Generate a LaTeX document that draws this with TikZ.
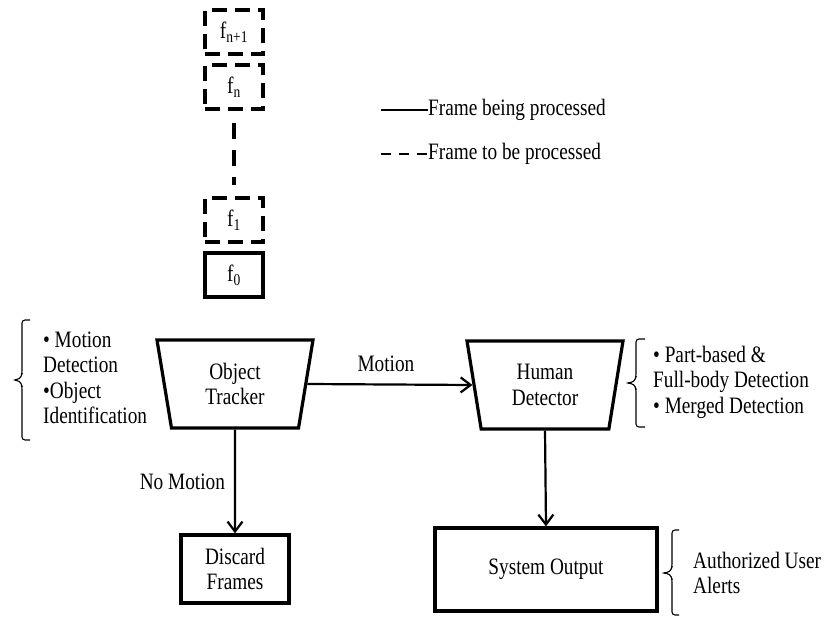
\documentclass[tikz,border=0pt]{standalone}
\usepackage{fontspec}
\setmainfont{Liberation Serif}[FakeStretch=0.82]
\usetikzlibrary{shapes.geometric,arrows.meta}

\tikzset{
  framebox/.style={draw, line width=3.3pt, minimum width=58pt, minimum height=44pt, inner sep=0pt},
  framedashed/.style={framebox, dash pattern=on 15pt off 8pt},
  unit/.style={draw, line width=3.2pt, trapezium, shape border rotate=180,
    trapezium left angle=71, trapezium right angle=71, trapezium stretches body,
    minimum width=156pt, minimum height=88pt, align=center, inner sep=0pt},
  outbox/.style={draw, line width=3.2pt, align=center, inner sep=0pt},
  flow/.style={line width=2.2pt, -{Straight Barb[length=10pt,width=15pt,line width=2.2pt]}},
  bracket/.style={line width=1.1pt, rounded corners=3pt},
  note/.style={anchor=west, align=left, inner sep=0pt},
  legline/.style={line width=2.5pt}
}

\begin{document}
\begin{tikzpicture}[x=1pt, y=-1pt, font=\fontsize{23.5}{25.5}\selectfont]
\useasboundingbox (0,0) rectangle (827,617);

% frame queue
\node[framedashed] (fn1) at (234,32) {f\textsubscript{n+1}};
\node[framedashed] (fn)  at (234,87) {f\textsubscript{n}};
\node[framedashed] (f1)  at (234,220) {f\textsubscript{1}};
\node[framebox]    (f0)  at (234,275) {f\textsubscript{0}};
\draw[line width=3.2pt, dash pattern=on 16pt off 11pt, shorten <=12pt, shorten >=11pt] (fn.south) -- (f1.north);

% legend
\coordinate (solidstart) at (381,110);
\node[note] (solidtext) at (428,110) {Frame being processed};
\draw[legline] (solidstart) -- (solidtext.west);
\coordinate (dashstart) at (381,154);
\node[note] (dashtext) at (428,154) {Frame to be processed};
\draw[legline, dash pattern=on 10pt off 8pt] (dashstart) -- (dashtext.west);

% processing units
\node[unit] (ot) at (235,384) {Object\\Tracker};
\node[unit] (hd) at (545,385) {Human\\Detector};
\node[outbox, minimum width=108pt, minimum height=68pt] (discard) at (235,569) {Discard\\Frames};
\node[outbox, minimum width=222pt, minimum height=83pt] (out) at (546,569.5) {System Output};

% connectors
\draw[flow] (ot.east) -- node[above=8pt, xshift=-4pt] {Motion} (hd.west);
\draw[flow] (ot.south) -- node[pos=0.5, anchor=east, inner sep=0pt, xshift=-9pt] {No Motion} (discard.north);
\draw[flow] (hd.south) -- (out.north);

% annotations with brackets
\node[note] (otnote) at (43,378) {• Motion\\Detection\\•Object\\Identification};
\draw[bracket] (30,320) -- (22,320) -- (22,374) -- (20,379) -- (13,380) -- (20,381) -- (22,386) -- (22,440) -- (30,440);

\node[note] (hdnote) at (653,382) {• Part-based \&\\Full-body Detection\\• Merged Detection};
\draw[bracket] (645,339) -- (636,339) -- (636,377) -- (634,382) -- (626,383) -- (634,384) -- (636,389) -- (636,427) -- (645,427);

\node[note] (outnote) at (693,573) {Authorized User\\Alerts};
\draw[bracket] (679,530) -- (672,530) -- (672,567) -- (670,572) -- (662,573) -- (670,574) -- (672,579) -- (672,615) -- (679,615);
\end{tikzpicture}
\end{document}
